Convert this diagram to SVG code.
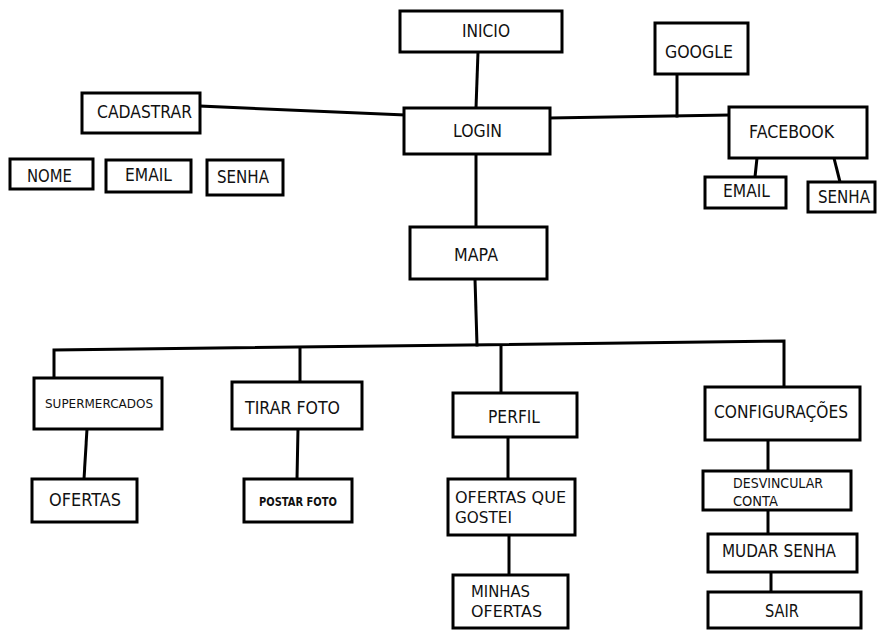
<svg xmlns="http://www.w3.org/2000/svg" width="877" height="630" viewBox="0 0 877 630">
<style>
.b{fill:#fff;stroke:#000;stroke-width:3}
.c{fill:none;stroke:#000;stroke-width:3;stroke-linecap:square}
text{font-family:"DejaVu Sans","Liberation Sans",sans-serif;font-size:17px;fill:#111}
.s{font-size:13px}
.xs{font-size:12px;font-weight:bold}
.m{font-size:15px}
.d{font-size:14px}
</style>
<rect width="877" height="630" fill="#fff"/>
<g id="connectors">
<line class="c" x1="478" y1="52" x2="476" y2="108"/>
<line class="c" x1="200" y1="106" x2="404" y2="115"/>
<line class="c" x1="550" y1="118" x2="729" y2="115"/>
<line class="c" x1="677" y1="74" x2="677" y2="116"/>
<line class="c" x1="757" y1="158" x2="755" y2="177"/>
<line class="c" x1="834" y1="158" x2="840" y2="182"/>
<line class="c" x1="476" y1="154" x2="476" y2="227"/>
<line class="c" x1="475" y1="279" x2="477" y2="345"/>
<polyline class="c" points="54,377 54,350 784,341 784,387"/>
<line class="c" x1="300" y1="349" x2="300" y2="382"/>
<line class="c" x1="501" y1="346" x2="501" y2="393"/>
<line class="c" x1="87" y1="429" x2="84" y2="479"/>
<line class="c" x1="298" y1="429" x2="297" y2="479"/>
<line class="c" x1="508" y1="437" x2="508" y2="479"/>
<line class="c" x1="509" y1="535" x2="509" y2="575"/>
<line class="c" x1="768" y1="440" x2="768" y2="471"/>
<line class="c" x1="768" y1="510" x2="768" y2="534"/>
<line class="c" x1="771" y1="572" x2="771" y2="592"/>
</g>
<g id="inicio"><rect class="b" x="400" y="11" width="162" height="41"/><text x="462" y="37" textLength="48" lengthAdjust="spacingAndGlyphs">INICIO</text></g>
<g id="login"><rect class="b" x="404" y="108" width="146" height="46"/><text x="453" y="137" textLength="49" lengthAdjust="spacingAndGlyphs">LOGIN</text></g>
<g id="cadastrar"><rect class="b" x="82" y="93" width="118" height="40"/><text x="97" y="118" textLength="95" lengthAdjust="spacingAndGlyphs">CADASTRAR</text></g>
<g id="nome"><rect class="b" x="10" y="159" width="83" height="30"/><text x="27" y="182" textLength="45" lengthAdjust="spacingAndGlyphs">NOME</text></g>
<g id="email"><rect class="b" x="106" y="160" width="85" height="32"/><text x="125" y="181" textLength="47" lengthAdjust="spacingAndGlyphs">EMAIL</text></g>
<g id="senha"><rect class="b" x="207" y="160" width="76" height="35"/><text x="217" y="183" textLength="52" lengthAdjust="spacingAndGlyphs">SENHA</text></g>
<g id="google"><rect class="b" x="655" y="23" width="93" height="51"/><text x="665" y="58" textLength="68" lengthAdjust="spacingAndGlyphs">GOOGLE</text></g>
<g id="facebook"><rect class="b" x="729" y="107" width="138" height="51"/><text x="749" y="138" textLength="85" lengthAdjust="spacingAndGlyphs">FACEBOOK</text></g>
<g id="fb-email"><rect class="b" x="705" y="177" width="81" height="31"/><text x="723" y="197" textLength="47" lengthAdjust="spacingAndGlyphs">EMAIL</text></g>
<g id="fb-senha"><rect class="b" x="808" y="182" width="67" height="30"/><text x="818" y="203" textLength="52" lengthAdjust="spacingAndGlyphs">SENHA</text></g>
<g id="mapa"><rect class="b" x="410" y="227" width="137" height="52"/><text x="454" y="261" textLength="44" lengthAdjust="spacingAndGlyphs">MAPA</text></g>
<g id="supermercados"><rect class="b" x="34" y="378" width="128" height="51"/><text class="s" x="45" y="408" textLength="108" lengthAdjust="spacingAndGlyphs">SUPERMERCADOS</text></g>
<g id="tirar-foto"><rect class="b" x="232" y="382" width="130" height="47"/><text x="245" y="414" style="font-size:18px" textLength="95" lengthAdjust="spacingAndGlyphs">TIRAR FOTO</text></g>
<g id="perfil"><rect class="b" x="453" y="393" width="124" height="44"/><text x="488" y="423" textLength="52" lengthAdjust="spacingAndGlyphs">PERFIL</text></g>
<g id="configuracoes"><rect class="b" x="705" y="387" width="155" height="53"/><text x="714" y="418" textLength="134" lengthAdjust="spacingAndGlyphs">CONFIGURAÇÕES</text></g>
<g id="ofertas"><rect class="b" x="32" y="479" width="105" height="43"/><text x="49" y="506" textLength="72" lengthAdjust="spacingAndGlyphs">OFERTAS</text></g>
<g id="postar-foto"><rect class="b" x="244" y="479" width="108" height="43"/><text class="xs" x="259" y="506" textLength="78" lengthAdjust="spacingAndGlyphs">POSTAR FOTO</text></g>
<g id="ofertas-que-gostei"><rect class="b" x="448" y="479" width="127" height="56"/><text class="m" x="455" y="503" textLength="111" lengthAdjust="spacingAndGlyphs">OFERTAS QUE</text><text class="m" x="455" y="523" textLength="57" lengthAdjust="spacingAndGlyphs">GOSTEI</text></g>
<g id="minhas-ofertas"><rect class="b" x="453" y="575" width="115" height="53"/><text class="m" x="471" y="597" textLength="59" lengthAdjust="spacingAndGlyphs">MINHAS</text><text class="m" x="471" y="617" textLength="71" lengthAdjust="spacingAndGlyphs">OFERTAS</text></g>
<g id="desvincular-conta"><rect class="b" x="703" y="471" width="148" height="39"/><text class="d" x="733" y="488" textLength="90" lengthAdjust="spacingAndGlyphs">DESVINCULAR</text><text class="d" x="733" y="506" textLength="45" lengthAdjust="spacingAndGlyphs">CONTA</text></g>
<g id="mudar-senha"><rect class="b" x="708" y="534" width="149" height="38"/><text x="722" y="557" textLength="114" lengthAdjust="spacingAndGlyphs">MUDAR SENHA</text></g>
<g id="sair"><rect class="b" x="708" y="592" width="153" height="36"/><text x="765" y="617" textLength="34" lengthAdjust="spacingAndGlyphs">SAIR</text></g>
</svg>
